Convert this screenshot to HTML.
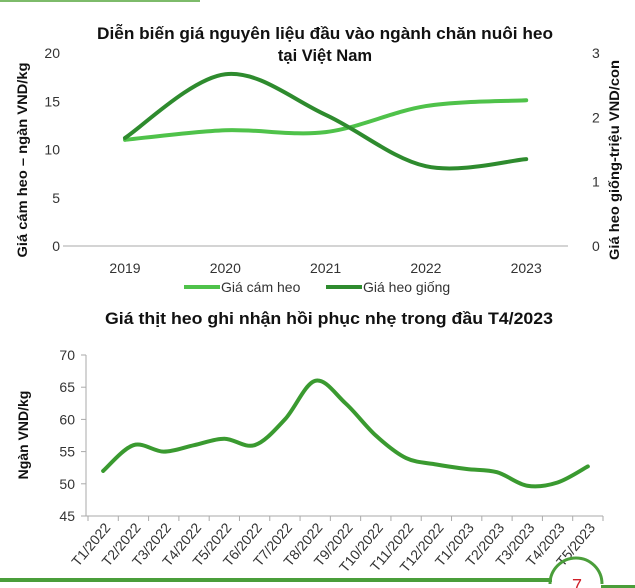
<!DOCTYPE html>
<html><head><meta charset="utf-8"><style>
body{margin:0;background:#fff;}
svg{display:block;font-family:"Liberation Sans",sans-serif;}
</style></head><body>
<svg width="635" height="588" viewBox="0 0 635 588">
<rect x="0" y="0" width="200" height="2" fill="#7dbb6a"/>
<g id="c1">
<text x="325" y="39" text-anchor="middle" font-size="16.5" font-weight="bold" fill="#111" textLength="456" lengthAdjust="spacingAndGlyphs">Diễn biến giá nguyên liệu đầu vào ngành chăn nuôi heo</text>
<text x="325" y="61" text-anchor="middle" font-size="16.5" font-weight="bold" fill="#111">tại Việt Nam</text>
<text transform="translate(27,160) rotate(-90)" text-anchor="middle" font-size="14" font-weight="bold" fill="#111" textLength="195" lengthAdjust="spacingAndGlyphs">Giá cám heo – ngàn VND/kg</text>
<text transform="translate(619,160) rotate(-90)" text-anchor="middle" font-size="14" font-weight="bold" fill="#111" textLength="200" lengthAdjust="spacingAndGlyphs">Giá heo giống-triệu VND/con</text>
<line x1="63" y1="246" x2="568" y2="246" stroke="#aaa" stroke-width="1"/>
</g>
<g id="c2">
<text x="329" y="324" text-anchor="middle" font-size="17" font-weight="bold" fill="#111" textLength="448" lengthAdjust="spacingAndGlyphs">Giá thịt heo ghi nhận hồi phục nhẹ trong đầu T4/2023</text>
<text transform="translate(28,435) rotate(-90)" text-anchor="middle" font-size="14" font-weight="bold" fill="#111">Ngàn VND/kg</text>
<line x1="86" y1="355" x2="86" y2="516" stroke="#aaa"/>
<line x1="86" y1="516" x2="603" y2="516" stroke="#aaa"/>
</g>
<rect x="0" y="578" width="552" height="4" fill="#4a9e3a"/>
<rect x="601" y="585" width="34" height="4" fill="#4a9e3a"/>
<path d="M550,584 A26,26 0 0 1 602,584" fill="none" stroke="#4a9e3a" stroke-width="3"/>
<text x="577" y="592" text-anchor="middle" font-size="18" fill="#d0202a">7</text>
</svg>
<script>
const years=["2019","2020","2021","2022","2023"];
const feedPrice=[11,12,11.8,14.5,15.1];
const pigletPrice=[1.68,2.67,2.04,1.24,1.35];
const leftTicks=[0,5,10,15,20];
const rightTicks=[0,1,2,3];
const months=["T1/2022","T2/2022","T3/2022","T4/2022","T5/2022","T6/2022","T7/2022","T8/2022","T9/2022","T10/2022","T11/2022","T12/2022","T1/2023","T2/2023","T3/2023","T4/2023","T5/2023"];
const porkPrice=[52,56,55,56,57,56,60,66,62.5,57.5,54,53,52.3,51.8,49.7,50.2,52.7];
const porkTicks=[45,50,55,60,65,70];
const NS="http://www.w3.org/2000/svg";
function mk(tag,attrs,parent,txt){const e=document.createElementNS(NS,tag);for(const k in attrs)e.setAttribute(k,attrs[k]);if(txt!==undefined)e.textContent=txt;parent.appendChild(e);return e;}
function smooth(pts){let d="M"+pts[0][0]+","+pts[0][1];for(let i=0;i<pts.length-1;i++){const p0=pts[i-1]||pts[i],p1=pts[i],p2=pts[i+1],p3=pts[i+2]||p2;const c1x=p1[0]+(p2[0]-p0[0])/6,c1y=p1[1]+(p2[1]-p0[1])/6,c2x=p2[0]-(p3[0]-p1[0])/6,c2y=p2[1]-(p3[1]-p1[1])/6;d+=` C${c1x},${c1y} ${c2x},${c2y} ${p2[0]},${p2[1]}`;}return d;}
const c1=document.getElementById("c1");
const x1=i=>125+i*100.3;
const yL=v=>246-v/20*193;
const yR=v=>246-v/3*193;
leftTicks.forEach(t=>{const e=mk("text",{x:60,y:yL(t)+5,"text-anchor":"end","font-size":14,fill:"#333"},c1,t);

});
rightTicks.forEach(t=>{const e=mk("text",{x:592,y:yR(t)+5,"font-size":14,fill:"#333"},c1,t);

});
years.forEach((y,i)=>{const e=mk("text",{x:x1(i),y:273,"text-anchor":"middle","font-size":14,fill:"#333"},c1,y);

});
const feedLine=mk("path",{d:smooth(feedPrice.map((v,i)=>[x1(i),yL(v)])),fill:"none",stroke:"#4fc24a","stroke-width":4,"stroke-linecap":"round"},c1);


const pigLine=mk("path",{d:smooth(pigletPrice.map((v,i)=>[x1(i),yR(v)])),fill:"none",stroke:"#2e8b2e","stroke-width":4,"stroke-linecap":"round"},c1);


const lg1=mk("line",{x1:184,y1:287,x2:220,y2:287,stroke:"#4fc24a","stroke-width":4},c1);


const lt1=mk("text",{x:221,y:292,"font-size":14,fill:"#333"},c1,"Giá cám heo");


const lg2=mk("line",{x1:326,y1:287,x2:362,y2:287,stroke:"#2e8b2e","stroke-width":4},c1);


const lt2=mk("text",{x:363,y:292,"font-size":14,fill:"#333"},c1,"Giá heo giống");


const c2=document.getElementById("c2");
const step=(603-88)/months.length;
const x2=i=>88+step*(i+0.5);
const y2=v=>516-(v-45)/25*161;
porkTicks.forEach(t=>{const tk=mk("line",{x1:81,x2:86,y1:y2(t),y2:y2(t),stroke:"#aaa"},c2);


const e=mk("text",{x:75,y:y2(t)+5,"text-anchor":"end","font-size":14,fill:"#333"},c2,t);

});
for(let i=0;i<=months.length;i++){const tk=mk("line",{x1:88+step*i,x2:88+step*i,y1:516,y2:521,stroke:"#aaa"},c2);

}
months.forEach((m,i)=>{const x=x2(i)+8,y=528;const e=mk("text",{x:x,y:y,"text-anchor":"end","font-size":14,fill:"#333",transform:`rotate(-50 ${x} ${y})`},c2,m);

});
const pork=mk("path",{d:smooth(porkPrice.map((v,i)=>[x2(i),y2(v)])),fill:"none",stroke:"#3a9a30","stroke-width":4,"stroke-linecap":"round"},c2);


</script>
</body></html>
